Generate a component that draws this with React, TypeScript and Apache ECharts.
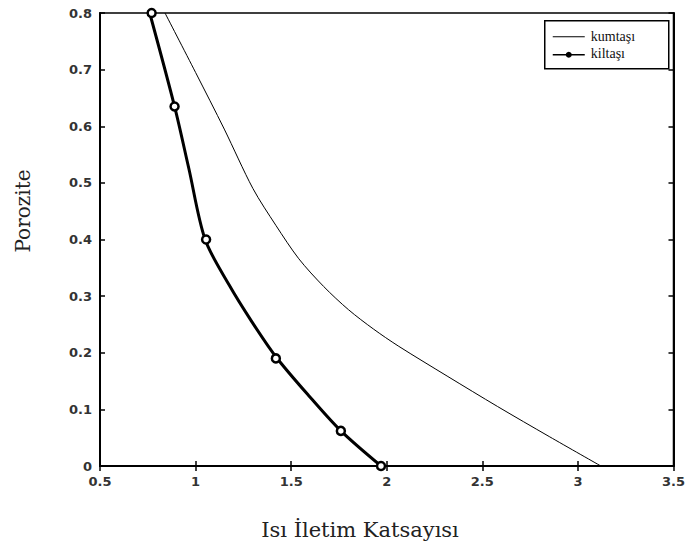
import React, { useEffect, useRef } from "react";
import * as echarts from "echarts";

const xTickMin = 0.5;
const xTickMax = 3.5;
const yTickMin = 0;
const yTickMax = 0.8;

const kumtasiX = [0.84, 1.0, 1.15, 1.3, 1.42, 1.54, 1.67, 1.8, 1.93, 2.06, 2.32, 2.58, 2.85, 3.12];
const kumtasiY = [0.8, 0.695, 0.595, 0.49, 0.425, 0.366, 0.317, 0.276, 0.242, 0.212, 0.158, 0.105, 0.052, 0];

const kiltasiCurveX = [0.76, 0.89, 0.965, 1.05, 1.175, 1.294, 1.42, 1.59, 1.76, 1.97];
const kiltasiCurveY = [0.8, 0.635, 0.525, 0.4, 0.32, 0.255, 0.193, 0.125, 0.062, 0];

const kiltasiX = [0.77, 0.89, 1.055, 1.42, 1.76, 1.97];
const kiltasiY = [0.8, 0.635, 0.4, 0.19, 0.062, 0];

const seriesNames = ["kumtaşı", "kiltaşı"];
const xTitle = "Isı İletim Katsayısı";
const yTitle = "Porozite";

export default function App() {
  const ref = useRef<HTMLDivElement>(null);
  useEffect(() => {
    if (!ref.current) return;
    const chart = echarts.init(ref.current, null, { renderer: "svg" });
    const labelStyle = {
      color: "#333",
      fontFamily: "DejaVu Sans",
      fontSize: 13,
      fontWeight: "bold" as const,
    };
    const axisLine = { show: true, lineStyle: { color: "#000", width: 2 } };
    const tick = { show: true, inside: true, length: 5, lineStyle: { color: "#000", width: 1.5 } };
    chart.setOption({
      animation: false,
      backgroundColor: "#fff",
      grid: {
        left: 100,
        right: 11,
        top: 13,
        bottom: 82,
        show: true,
        borderColor: "#000",
        borderWidth: 1.5,
      },
      legend: { show: false },
      xAxis: [
        {
          type: "value",
          min: xTickMin,
          max: xTickMax,
          interval: 0.5,
          axisLine,
          axisTick: tick,
          axisLabel: { ...labelStyle, margin: 9 },
          splitLine: { show: false },
        },
        {
          type: "value",
          position: "top",
          min: xTickMin,
          max: xTickMax,
          interval: 0.5,
          axisLine,
          axisTick: tick,
          axisLabel: { show: false },
          splitLine: { show: false },
        },
      ],
      yAxis: [
        {
          type: "value",
          min: yTickMin,
          max: yTickMax,
          interval: 0.1,
          axisLine,
          axisTick: tick,
          axisLabel: { ...labelStyle, margin: 8 },
          splitLine: { show: false },
        },
        {
          type: "value",
          position: "right",
          min: yTickMin,
          max: yTickMax,
          interval: 0.1,
          axisLine,
          axisTick: tick,
          axisLabel: { show: false },
          splitLine: { show: false },
        },
      ],
      graphic: [
        {
          type: "text",
          x: 360,
          y: 530,
          style: {
            text: xTitle,
            fontFamily: "DejaVu Serif",
            fontSize: 21,
            fill: "#222",
            align: "center",
            verticalAlign: "middle",
          },
        },
        {
          type: "text",
          x: 23,
          y: 211,
          rotation: Math.PI / 2,
          style: {
            text: yTitle,
            fontFamily: "DejaVu Serif",
            fontSize: 20,
            fill: "#222",
            align: "center",
            verticalAlign: "middle",
          },
        },
        {
          type: "group",
          left: 544,
          top: 20,
          children: [
            {
              type: "rect",
              shape: { x: 0, y: 0, width: 124, height: 48 },
              style: { fill: "#fff", stroke: "#000", lineWidth: 1.5 },
            },
            {
              type: "line",
              shape: { x1: 8, y1: 16, x2: 40, y2: 16 },
              style: { stroke: "#000", lineWidth: 1.2 },
            },
            {
              type: "text",
              x: 46,
              y: 16,
              style: {
                text: seriesNames[0],
                fontFamily: "Liberation Serif",
                fontSize: 14,
                fill: "#111",
                verticalAlign: "middle",
              },
            },
            {
              type: "line",
              shape: { x1: 8, y1: 34, x2: 40, y2: 34 },
              style: { stroke: "#000", lineWidth: 1.5 },
            },
            {
              type: "circle",
              shape: { cx: 24, cy: 34, r: 3 },
              style: { fill: "#000" },
            },
            {
              type: "text",
              x: 46,
              y: 33,
              style: {
                text: seriesNames[1],
                fontFamily: "Liberation Serif",
                fontSize: 14,
                fill: "#111",
                verticalAlign: "middle",
              },
            },
          ],
        },
      ],
      series: [
        {
          name: seriesNames[0],
          type: "line",
          smooth: 0.3,
          showSymbol: false,
          symbol: "none",
          lineStyle: { color: "#000", width: 1 },
          data: kumtasiX.map((x, i) => [x, kumtasiY[i]]),
        },
        {
          name: seriesNames[1],
          type: "line",
          smooth: 0.3,
          showSymbol: false,
          symbol: "none",
          lineStyle: { color: "#000", width: 3 },
          data: kiltasiCurveX.map((x, i) => [x, kiltasiCurveY[i]]),
        },
        {
          name: seriesNames[1],
          type: "scatter",
          symbol: "circle",
          symbolSize: 8,
          itemStyle: { color: "#fff", borderColor: "#000", borderWidth: 2.5, opacity: 1 },
          data: kiltasiX.map((x, i) => [x, kiltasiY[i]]),
          z: 5,
        },
      ],
    });
    return () => chart.dispose();
  }, []);
  return (
    <div
      ref={ref}
      style={{ position: "fixed", left: 0, top: 0, width: 688, height: 548 }}
    />
  );
}
